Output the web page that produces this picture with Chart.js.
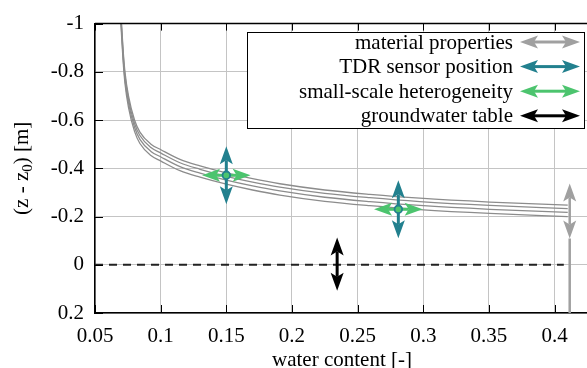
<!DOCTYPE html>
<html>
<head>
<meta charset="utf-8">
<script src="https://cdn.jsdelivr.net/npm/chart.js@4"></script>
<style>
  html, body { margin: 0; padding: 0; background: #fff; overflow: hidden; }
  #wrap { width: 600px; height: 368px; }
</style>
</head>
<body>
<div id="wrap"><canvas id="chart1" width="600" height="368"></canvas></div>
<script>
// valores
const waterContent = [0.0688, 0.0702, 0.0713, 0.0728, 0.0755, 0.0801, 0.0842, 0.0926, 0.1002, 0.1147, 0.13, 0.15, 0.17, 0.1908, 0.225, 0.2593, 0.2973, 0.3506, 0.41];
const curveA = [-1.14, -1.0, -0.9, -0.8, -0.7, -0.6, -0.55, -0.5, -0.477, -0.437, -0.41, -0.381, -0.357, -0.336, -0.31, -0.292, -0.276, -0.26, -0.247];
const curveB = [-1.126, -0.986, -0.886, -0.786, -0.686, -0.586, -0.536, -0.486, -0.463, -0.423, -0.396, -0.367, -0.343, -0.322, -0.296, -0.278, -0.262, -0.246, -0.233];
const curveC = [-1.11, -0.97, -0.87, -0.77, -0.67, -0.57, -0.52, -0.47, -0.447, -0.407, -0.38, -0.351, -0.327, -0.306, -0.28, -0.262, -0.246, -0.23, -0.217];
const curveD = [-1.093, -0.953, -0.853, -0.753, -0.653, -0.553, -0.503, -0.453, -0.43, -0.39, -0.363, -0.334, -0.31, -0.289, -0.263, -0.245, -0.229, -0.213, -0.2];

const sensorX = [0.15, 0.281];
const sensorY = [-0.371, -0.23];
const sensorRangeY = 0.12;
const sensorRangeX = 0.0185;

const tableLevel = 0;
const tableEnd = 0.407;
const groundwaterX = 0.2344;
const groundwaterRange = [-0.113, 0.108];

const materialX = 0.4115;
const materialRange = [-0.337, -0.109];

const xTickValues = [0.05, 0.1, 0.15, 0.2, 0.25, 0.3, 0.35, 0.4];
const xTickLabels = ["0.05", "0.1", "0.15", "0.2", "0.25", "0.3", "0.35", "0.4"];
const yTickValues = [-1, -0.8, -0.6, -0.4, -0.2, 0, 0.2];
const yTickLabels = ["-1", "-0.8", "-0.6", "-0.4", "-0.2", "0", "0.2"];

const legendLabels = ["material properties", "TDR sensor position", "small-scale heterogeneity", "groundwater table"];

const GRAY = "#a0a0a0";
const TEAL = "#22808e";
const GREEN = "#4cc46e";
const CURVE = "#8c8c8c";
const FONT = "'Liberation Serif', 'Times New Roman', serif";
const legendColors = [GRAY, TEAL, GREEN, "#000"];

const ctx1 = document.getElementById("chart1");

const toPts = (ys) => waterContent.map((x, i) => ({ x: x, y: ys[i] }));

function curveSet(ys) {
  return {
    data: toPts(ys),
    borderColor: CURVE,
    borderWidth: 1.3,
    pointRadius: 0,
    cubicInterpolationMode: "monotone",
  };
}

function arrowSet(p0, p1, color, width) {
  return {
    data: [p0, p1],
    showLine: false,
    pointRadius: 0,
    arrow: true,
    arrowColor: color,
    arrowWidth: width,
  };
}

// cabeca de seta estilo gnuplot
function head(ctx, tx, ty, ux, uy, color) {
  const len = 18, half = 6.5, notch = 4;
  const nx = -uy, ny = ux;
  ctx.beginPath();
  ctx.moveTo(tx, ty);
  ctx.lineTo(tx - ux * len + nx * half, ty - uy * len + ny * half);
  ctx.lineTo(tx - ux * (len - notch), ty - uy * (len - notch));
  ctx.lineTo(tx - ux * len - nx * half, ty - uy * len - ny * half);
  ctx.closePath();
  ctx.fillStyle = color;
  ctx.fill();
}

function drawArrow(ctx, a, b, color, width) {
  const dx = b.x - a.x, dy = b.y - a.y;
  const d = Math.hypot(dx, dy);
  const ux = dx / d, uy = dy / d;
  const back = 14;
  ctx.save();
  ctx.strokeStyle = color;
  ctx.lineWidth = width;
  ctx.beginPath();
  ctx.moveTo(a.x + ux * back, a.y + uy * back);
  ctx.lineTo(b.x - ux * back, b.y - uy * back);
  ctx.stroke();
  head(ctx, b.x, b.y, ux, uy, color);
  head(ctx, a.x, a.y, -ux, -uy, color);
  ctx.restore();
}

const datasets = [
  {
    data: sensorX.map((x, i) => ({ x: x, y: sensorY[i] })),
    showLine: false,
    pointRadius: 3.8,
    pointBackgroundColor: GREEN,
    pointBorderColor: TEAL,
    pointBorderWidth: 1.8,
  },
];
sensorX.forEach((x, i) => {
  datasets.push(arrowSet({ x: x, y: sensorY[i] - sensorRangeY }, { x: x, y: sensorY[i] + sensorRangeY }, TEAL, 3));
});
sensorX.forEach((x, i) => {
  datasets.push(arrowSet({ x: x - sensorRangeX, y: sensorY[i] }, { x: x + sensorRangeX, y: sensorY[i] }, GREEN, 3));
});
datasets.push(arrowSet({ x: groundwaterX, y: groundwaterRange[0] }, { x: groundwaterX, y: groundwaterRange[1] }, "#000", 3));
datasets.push(arrowSet({ x: materialX, y: materialRange[0] }, { x: materialX, y: materialRange[1] }, GRAY, 2.5));
datasets.push({
  data: [{ x: materialX, y: materialRange[1] }, { x: materialX, y: 0.2 }],
  borderColor: GRAY,
  borderWidth: 2.5,
  pointRadius: 0,
});
datasets.push({
  data: [{ x: 0.05, y: tableLevel }, { x: tableEnd, y: tableLevel }],
  borderColor: "#222",
  borderWidth: 2,
  borderDash: [8, 6],
  pointRadius: 0,
});
datasets.push(curveSet(curveA), curveSet(curveB), curveSet(curveC), curveSet(curveD));

const extras = {
  id: "extras",
  afterDatasetDraw(chart, args) {
    const ds = chart.data.datasets[args.index];
    if (!ds.arrow) return;
    const pts = args.meta.data;
    drawArrow(chart.ctx, pts[0], pts[1], ds.arrowColor, ds.arrowWidth);
  },
  afterDraw(chart) {
    const ctx = chart.ctx;
    const area = chart.chartArea;
    const xs = chart.scales.x, ys = chart.scales.y;
    ctx.save();
    // ticks internos
    ctx.strokeStyle = "#000";
    ctx.lineWidth = 1;
    ctx.beginPath();
    xTickValues.forEach((v) => {
      const px = Math.round(xs.getPixelForValue(v)) + 0.5;
      ctx.moveTo(px, area.bottom);
      ctx.lineTo(px, area.bottom - 8);
      ctx.moveTo(px, area.top);
      ctx.lineTo(px, area.top + 7);
    });
    yTickValues.forEach((v) => {
      const py = Math.round(ys.getPixelForValue(v)) + 0.5;
      ctx.moveTo(area.left, py);
      ctx.lineTo(area.left + 8, py);
    });
    ctx.stroke();
    // borda de cima
    ctx.lineWidth = 1.5;
    ctx.beginPath();
    ctx.moveTo(area.left, area.top);
    ctx.lineTo(area.right, area.top);
    ctx.stroke();

    // legenda
    ctx.fillStyle = "#fff";
    ctx.fillRect(247.5, 32.5, 337, 96);
    ctx.lineWidth = 1;
    ctx.strokeStyle = "#000";
    ctx.strokeRect(247.5, 32.5, 337, 96);
    ctx.font = "21px " + FONT;
    ctx.textAlign = "right";
    ctx.textBaseline = "middle";
    legendLabels.forEach((txt, i) => {
      const ry = 42 + i * 24.6;
      ctx.fillStyle = "#000";
      ctx.fillText(txt, 513, ry + 1);
      drawArrow(ctx, { x: 520, y: ry }, { x: 580, y: ry }, legendColors[i], 3);
    });

    // titulo do eixo x
    ctx.fillStyle = "#000";
    ctx.textAlign = "center";
    ctx.textBaseline = "alphabetic";
    ctx.fillText("water content [-]", 342, 366);

    // titulo do eixo y com subscrito
    ctx.translate(28, (area.top + area.bottom) / 2);
    ctx.rotate(-Math.PI / 2);
    const part1 = "(z - z", sub = "0", part2 = ") [m]";
    ctx.font = "21px " + FONT;
    const w1 = ctx.measureText(part1).width;
    const w2 = ctx.measureText(part2).width;
    ctx.font = "15px " + FONT;
    const w0 = ctx.measureText(sub).width;
    let x0 = -(w1 + w0 + w2) / 2;
    ctx.textAlign = "left";
    ctx.font = "21px " + FONT;
    ctx.fillText(part1, x0, 0);
    ctx.font = "15px " + FONT;
    ctx.fillText(sub, x0 + w1, 4);
    ctx.font = "21px " + FONT;
    ctx.fillText(part2, x0 + w1 + w0, 0);
    ctx.restore();
  },
};

new Chart(ctx1, {
  type: "line",
  data: { datasets: datasets },
  options: {
    responsive: false,
    animation: false,
    devicePixelRatio: 1,
    layout: { padding: { top: 23, right: 6, left: 0, bottom: 0 } },
    plugins: {
      legend: { display: false },
      tooltip: { enabled: false },
    },
    scales: {
      x: {
        type: "linear",
        min: 0.05,
        max: 0.43,
        afterBuildTicks: (s) => {
          s.ticks = xTickValues.map((v) => ({ value: v }));
        },
        afterFit: (s) => {
          s.height = 55;
        },
        grid: { color: "#c4c4c4", lineWidth: 1, drawTicks: false },
        border: { color: "#000", width: 1.5 },
        ticks: {
          padding: 11,
          color: "#000",
          maxRotation: 0,
          autoSkip: false,
          font: { family: FONT, size: 21 },
          callback: (v, i) => xTickLabels[i],
        },
      },
      y: {
        type: "linear",
        min: -1,
        max: 0.2,
        reverse: true,
        afterBuildTicks: (s) => {
          s.ticks = yTickValues.map((v) => ({ value: v }));
        },
        afterFit: (s) => {
          s.width = 95;
        },
        grid: { color: "#c4c4c4", lineWidth: 1, drawTicks: false },
        border: { color: "#000", width: 1.5 },
        ticks: {
          padding: 11,
          color: "#000",
          autoSkip: false,
          font: { family: FONT, size: 21 },
          callback: (v, i) => yTickLabels[i],
        },
      },
    },
  },
  plugins: [extras],
});
</script>
</body>
</html>
